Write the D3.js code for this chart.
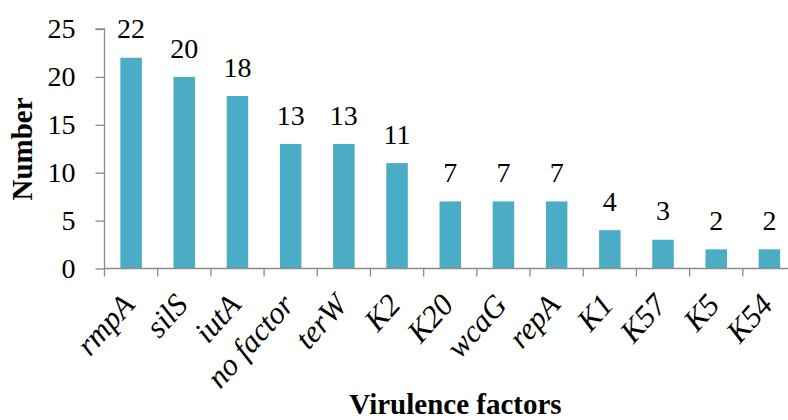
<!DOCTYPE html>
<html><head><meta charset="utf-8">
<script src="https://cdn.jsdelivr.net/npm/d3@7"></script>
<style>body{margin:0;background:#fff}</style>
</head><body><svg id="c" width="788" height="420"></svg>
<script>
const categories = ["rmpA","silS","iutA","no factor","terW","K2","K20","wcaG","repA","K1","K57","K5","K54"];
const values = [22,20,18,13,13,11,7,7,7,4,3,2,2];
const yTicks = [0,5,10,15,20,25];

const svg = d3.select("#c");
const FF = '"Liberation Serif"';
const txt = (sel) => sel.style("font-family", FF);
const xb = d3.scaleBand().domain(categories).range([104.5, 796]);
const y = d3.scaleLinear().domain([0,25]).range([268.5, 29]);
const axisCol = "#8c8c8c";

// y axis
const ya = svg.append("g").attr("transform","translate(104.5,0)")
  .call(d3.axisLeft(y).tickValues(yTicks).tickSize(9).tickPadding(20));
ya.attr("font-family", null).attr("font-size", null);
ya.select(".domain").attr("stroke", axisCol).attr("stroke-width",1.3).attr("d","M-9,29H0V268.5");
ya.selectAll(".tick line").attr("stroke", axisCol).attr("stroke-width",1.3);
ya.selectAll(".tick text").call(txt).attr("font-size", 28).attr("fill","#000");

// bars
svg.selectAll("rect.bar").data(values).enter().append("rect")
  .attr("x", (d,i)=> xb(categories[i]) + xb.bandwidth()/2 - 10.75)
  .attr("width", 21.5)
  .attr("y", d=> y(d)).attr("height", d=> y(0)-y(d))
  .attr("fill","#4bacc6");

// value labels
values.forEach((v,i)=>{
  svg.append("text").attr("x", xb(categories[i]) + xb.bandwidth()/2).attr("y", y(v) - 19.3)
    .attr("text-anchor","middle").call(txt).attr("font-size",28).text(v);
});

// x axis
const xa = svg.append("g").attr("transform","translate(0,268.5)");
xa.append("path").attr("stroke", axisCol).attr("stroke-width",1.3).attr("fill","none").attr("d","M104.5,0H796");
xb.domain().forEach(c=>{
  xa.append("line").attr("x1", xb(c)).attr("x2", xb(c)).attr("y1",0).attr("y2",8)
    .attr("stroke", axisCol).attr("stroke-width",1.3);
});
// x labels
categories.forEach(c=>{
  svg.append("text").attr("transform", `translate(${xb(c)+xb.bandwidth()/2+5},306) rotate(-48)`)
    .attr("text-anchor","end").attr("font-style","italic").call(txt).attr("font-size",31).text(c);
});

// axis titles
svg.append("text").attr("transform","translate(32,149) rotate(-90)")
  .attr("text-anchor","middle").attr("font-weight","bold").call(txt)
  .attr("font-size",29).text("Number");
svg.append("text").attr("x",455.5).attr("y",414)
  .attr("text-anchor","middle").attr("font-weight","bold").call(txt)
  .attr("font-size",29).text("Virulence factors");
</script></body></html>
